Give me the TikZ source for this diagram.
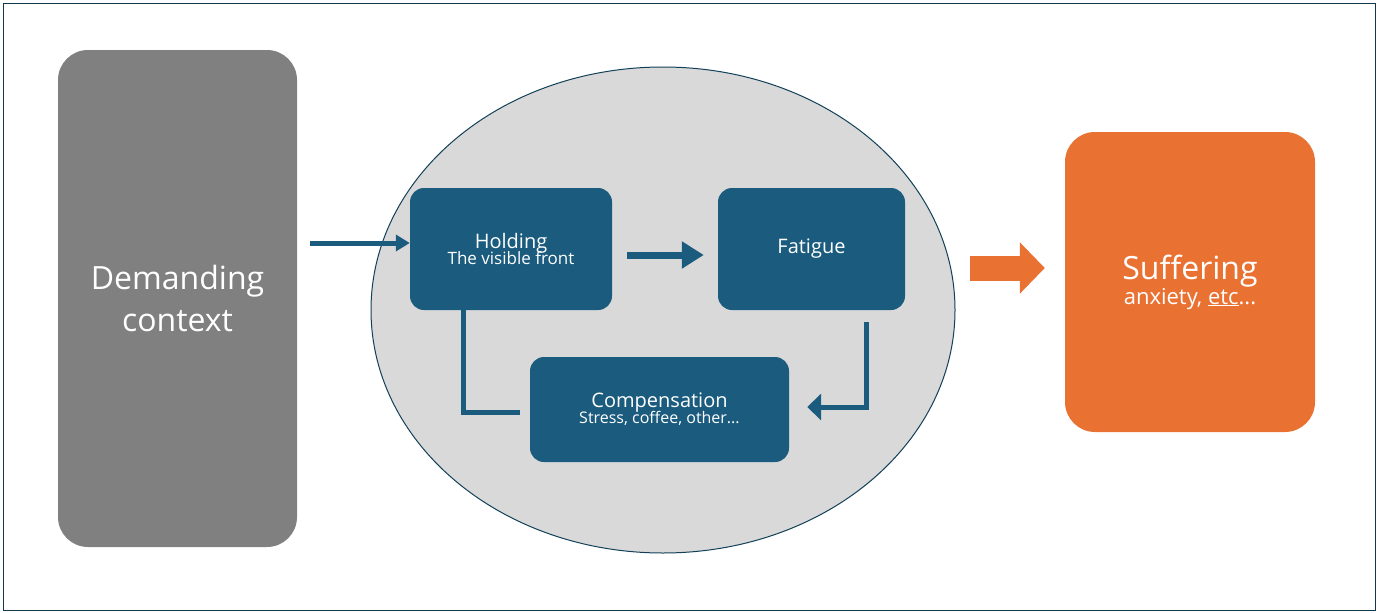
\documentclass[tikz,border=0pt]{standalone}
\usepackage{fontspec}
\setmainfont{Open Sans}
\usetikzlibrary{arrows.meta,shapes.geometric}
\definecolor{navy}{HTML}{1A5B7E}
\definecolor{gbox}{HTML}{808080}
\definecolor{orng}{HTML}{E97132}
\definecolor{ell}{HTML}{D9D9D9}
\begin{document}
\begin{tikzpicture}[x=1pt,y=-1pt,
  box/.style={rounded corners=14pt,text=white,align=center,inner sep=0pt},
  arr/.style={navy,line width=5pt,-{Triangle[length=14pt,width=16pt]}}]
\useasboundingbox (0,0) rectangle (1379,613);
\draw[navy!60!black,line width=1pt] (3,3) rectangle (1375,610);
\node[box,fill=gbox,rounded corners=30pt,minimum width=239pt,minimum height=497pt,font=\fontsize{32}{42}\selectfont] (dc) at (177.5,298.5) {Demanding\\context};
\node[ellipse,draw=navy!70!black,line width=1pt,fill=ell,minimum width=584pt,minimum height=486pt] (el) at (663,310) {};
\node[box,fill=navy,minimum width=202pt,minimum height=122pt] (hold) at (511,249) {\fontsize{20}{30}\selectfont Holding\\[-2pt]\fontsize{17}{24}\selectfont The visible front};
\node[box,fill=navy,minimum width=187pt,minimum height=122pt,font=\fontsize{20}{26}\selectfont] (fat) at (811.5,249) {Fatigue};
\node[box,fill=navy,minimum width=259pt,minimum height=105pt] (comp) at (659.5,409.5) {\fontsize{20}{30}\selectfont Compensation\\[-2pt]\fontsize{16}{24}\selectfont Stress, coffee, other...};
\node[box,fill=orng,rounded corners=30pt,minimum width=250pt,minimum height=300pt] (suf) at (1190,282) {\fontsize{32}{46}\selectfont Suffering\\\fontsize{22}{30}\selectfont anxiety, \underline{etc}...};
\coordinate (a1) at (310,243);
\draw[arr] (a1) -- (hold.west|-a1);
\coordinate (b1) at (627,255);
\draw[arr,line width=7pt,-{Triangle[length=22pt,width=26pt]}] (b1) -- ([xshift=-14pt]fat.west|-b1);
\coordinate (c1) at (866,322);
\coordinate (c2) at (866,407);
\draw[navy,line width=5pt,-{Triangle[length=14pt,width=26pt]}] (c1) -- (c2) -- ([xshift=18pt]comp.east|-c2);
\coordinate (d1) at (520,412);
\coordinate (d2) at (463,412);
\draw[navy,line width=5pt,-{Triangle[length=14pt,width=26pt]}] (d1) -- (d2) -- ([yshift=24pt]d2|-hold.south);
\coordinate (e1) at (970,268);
\draw[orng,line width=25pt,-{Triangle[length=25pt,width=50pt]}] (e1) -- ([xshift=-20pt]suf.west|-e1);
\end{tikzpicture}
\end{document}
